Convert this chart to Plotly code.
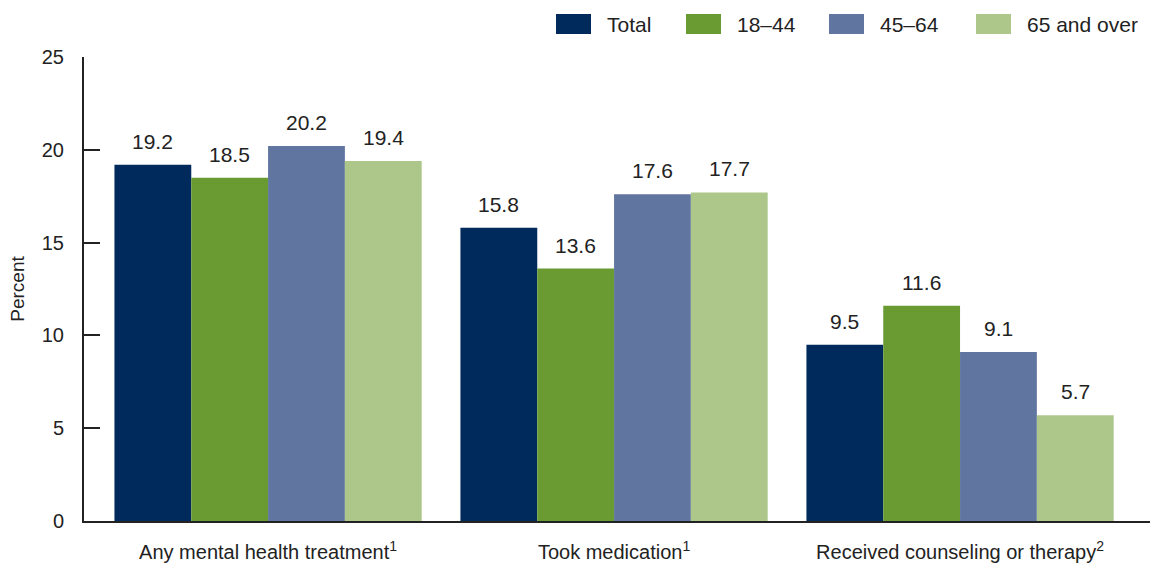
import plotly.graph_objects as go

categories = ["Any mental health treatment<sup>1</sup>", "Took medication<sup>1</sup>",
              "Received counseling or therapy<sup>2</sup>"]
series_names = ["Total", "18–44", "45–64", "65 and over"]
total = [19.2, 15.8, 9.5]
age_18_44 = [18.5, 13.6, 11.6]
age_45_64 = [20.2, 17.6, 9.1]
age_65_over = [19.4, 17.7, 5.7]
y_ticks = [0, 5, 10, 15, 20, 25]

colors = ["#002a5c", "#6a9a32", "#60759f", "#adc78b"]
series = [total, age_18_44, age_45_64, age_65_over]
FONT = "Liberation Sans, Arial"
TXT = "#222"

W, H = 1152, 568
L, R, T, B = 84, 2, 57, 47
bargap = 0.112
n = len(series)
bw = (1 - bargap) / n

fig = go.Figure()
for name, vals, c in zip(series_names, series, colors):
    fig.add_trace(go.Bar(
        x=list(range(len(categories))), y=vals, name=name,
        marker=dict(color=c, line=dict(width=0)), showlegend=False,
    ))

# value labels above bars
for si, vals in enumerate(series):
    off = -(1 - bargap) / 2 + bw * (si + 0.5)
    for ci, v in enumerate(vals):
        fig.add_annotation(x=ci + off, y=v, xref="x", yref="y", text=f"{v:.1f}",
                           showarrow=False, yanchor="bottom", yshift=10,
                           font=dict(family=FONT, size=21, color=TXT))

# custom legend
pw = W - L - R
ph = H - T - B
def px_x(p):
    return (p - L) / pw
def px_y(p):
    return (H - B - p) / ph

swatch_x = [556, 686, 829, 976]
for name, c, sx in zip(series_names, colors, swatch_x):
    fig.add_shape(type="rect", xref="paper", yref="paper",
                  x0=px_x(sx), x1=px_x(sx + 35), y0=px_y(34), y1=px_y(14),
                  fillcolor=c, line=dict(width=0))
    fig.add_annotation(xref="paper", yref="paper", x=px_x(sx + 49), y=px_y(24),
                       text=name, showarrow=False, xanchor="left", yanchor="middle",
                       font=dict(family=FONT, size=21, color=TXT))

fig.update_layout(
    width=W, height=H,
    margin=dict(l=L, r=R, t=T, b=B),
    plot_bgcolor="white", paper_bgcolor="white",
    barmode="group", bargap=bargap, bargroupgap=0,
    font=dict(family=FONT, size=20, color=TXT),
)
fig.update_xaxes(range=[-0.532, 2.549], showline=True, linecolor=TXT, linewidth=2,
                 tickmode="array", tickvals=list(range(len(categories))), ticktext=categories,
                 ticks="", ticklabelstandoff=12, automargin=False,
                 tickfont=dict(size=20, color=TXT))
fig.update_yaxes(range=[0, 25], tickvals=y_ticks, showgrid=False, zeroline=False,
                 showline=True, linecolor=TXT, linewidth=2, automargin=False,
                 ticks="inside", ticklen=16, tickwidth=2, tickcolor=TXT,
                 ticklabelstandoff=14,
                 tickfont=dict(size=20, color=TXT),
                 title=dict(text="Percent", font=dict(size=19, color=TXT), standoff=12))

fig.write_html("out.html")
